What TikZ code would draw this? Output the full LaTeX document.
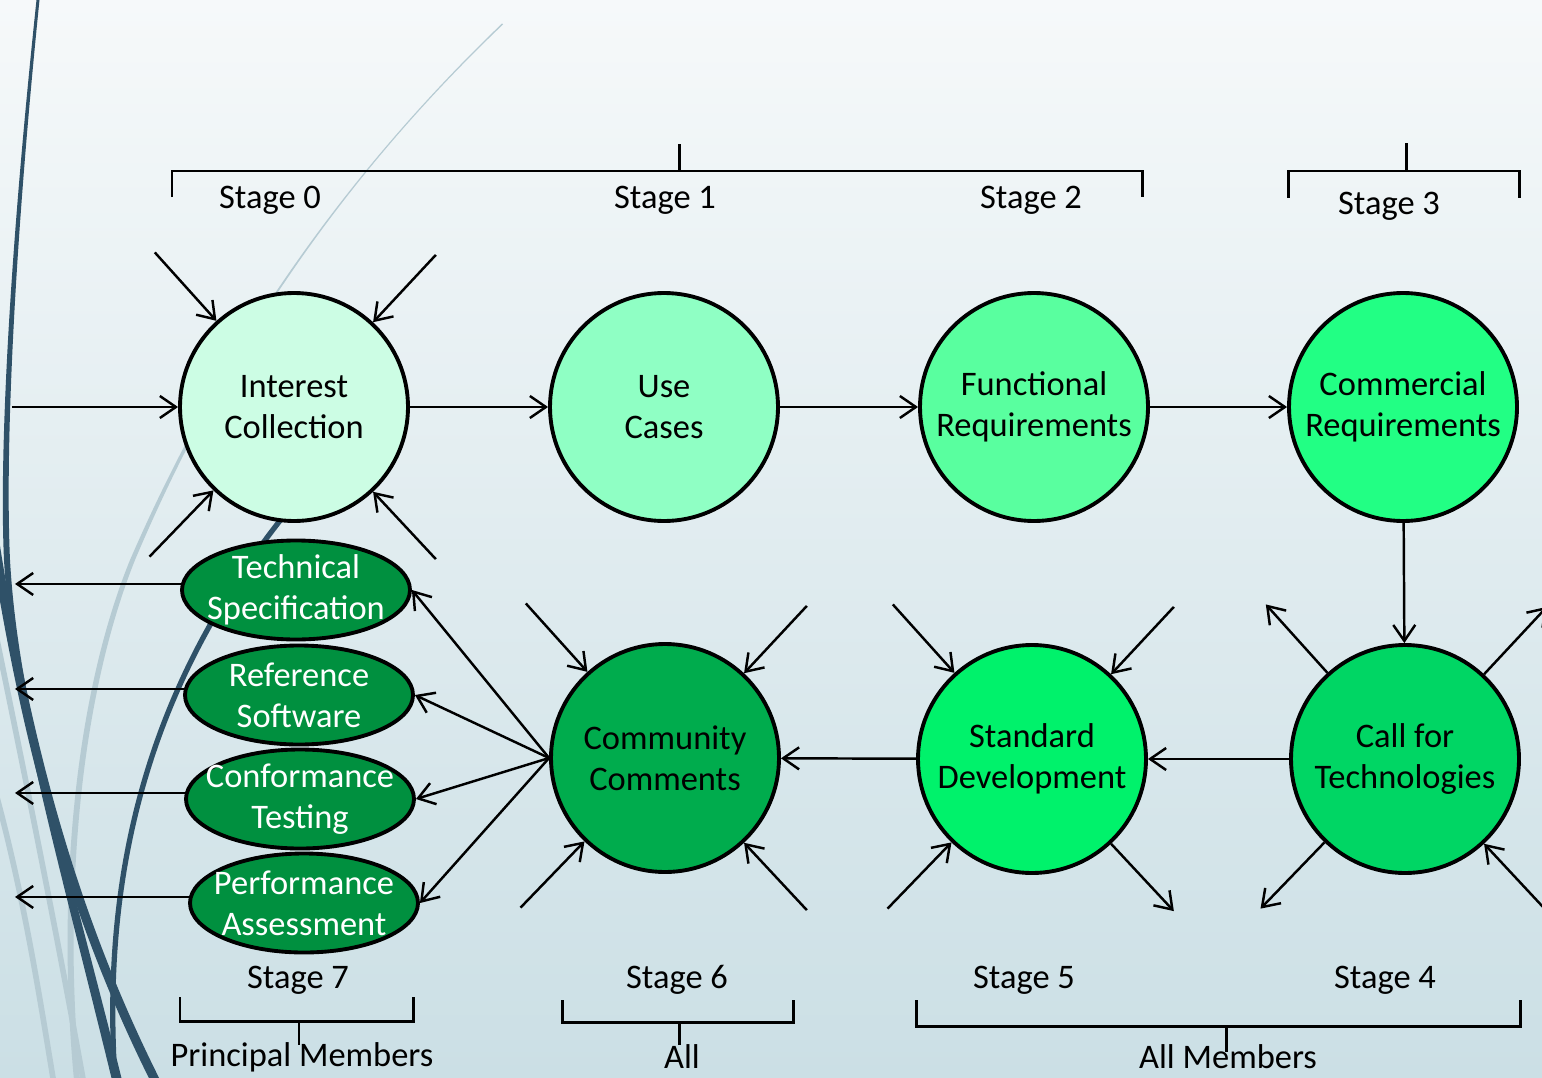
\documentclass[tikz,border=0pt]{standalone}
\usepackage{fontspec}
\setmainfont{Carlito}
\usetikzlibrary{shapes.geometric,arrows.meta}

\definecolor{bgtop}{HTML}{F6F9FA}
\definecolor{bgbottom}{HTML}{CBDFE5}
\definecolor{slate}{HTML}{2F5168}
\definecolor{mist}{HTML}{B6CBD3}
\definecolor{gInterest}{HTML}{CCFDE4}
\definecolor{gUse}{HTML}{8FFFC4}
\definecolor{gFunc}{HTML}{59FF9F}
\definecolor{gComm}{HTML}{22FF84}
\definecolor{gCall}{HTML}{00D664}
\definecolor{gStd}{HTML}{00F26B}
\definecolor{gCommunity}{HTML}{00AC4D}
\definecolor{gOut}{HTML}{00903F}
\newcommand{\diagfont}{\fontsize{9.8pt}{11.6pt}\selectfont}

\begin{document}
\begin{tikzpicture}[>={Straight Barb[length=1.6mm,width=2.2mm]}, line width=0.7pt,
    stage/.style={draw, circle, line width=1.1pt, minimum size=2.28cm, inner sep=0pt, align=center, font=\diagfont},
    output/.style={draw, ellipse, line width=1.1pt, fill=gOut, text=white, minimum width=2.28cm, minimum height=0.99cm, inner xsep=-0.2cm, inner ysep=-0.15cm, align=center, font=\diagfont},
    stagelabel/.style={inner sep=1pt, font=\diagfont},
    bracket/.style={line width=0.85pt},
    stubin/.style={->}, stubout/.style={<-}]
  % background
  \useasboundingbox (0,0) rectangle (15.42,-10.77);
  \shade[top color=bgtop, bottom color=bgbottom] (0,0) rectangle (15.42,-10.77);
  \fill[mist] (5.02,-0.235) .. controls (3.6,-1.6) and (2.3,-3.3) .. (1.30,-5.6)
    .. controls (0.73,-7.0) and (0.57,-9.0) .. (0.74,-10.8) -- (0.80,-10.8)
    .. controls (0.63,-9.0) and (0.79,-7.0) .. (1.35,-5.6)
    .. controls (2.32,-3.3) and (3.61,-1.6) .. (5.03,-0.245) -- cycle;
  \draw[mist, line width=1.6pt] (-0.05,-6.3) .. controls (0.3,-8.0) and (0.6,-9.5) .. (0.85,-10.9);
  \draw[mist, line width=1.6pt] (-0.05,-7.9) .. controls (0.25,-9.0) and (0.4,-10.0) .. (0.55,-10.9);
  \fill[slate] (0.365,0) .. controls (0.1,-2.5) and (-0.01,-4.5) .. (0.04,-5.6)
    .. controls (0.12,-7.0) and (0.51,-8.3) .. (1.12,-10.8) -- (1.22,-10.8)
    .. controls (0.59,-8.3) and (0.18,-7.0) .. (0.10,-5.6)
    .. controls (0.05,-4.5) and (0.14,-2.5) .. (0.395,0) -- cycle;
  \draw[slate, line width=2.6pt] (-0.2,-4.4) .. controls (0.12,-6.8) and (0.55,-8.8) .. (1.55,-10.8);
  \draw[slate, line width=1.5pt] (3.05,-4.9) .. controls (1.6,-6.6) and (1.0,-8.5) .. (1.15,-10.8);

  % stage circles
  \node[stage, fill=gInterest] (IC) at (2.94,-4.07) {Interest\\Collection};
  \node[stage, fill=gUse] (UC) at (6.64,-4.07) {Use\\Cases};
  \node[stage, fill=gFunc] (FR) at (10.34,-4.07) {Functional\\Requirements};
  \node[stage, fill=gComm] (CR) at (14.03,-4.07) {Commercial\\Requirements};
  \node[stage, fill=gCall] (CfT) at (14.05,-7.59) {Call for\\Technologies};
  \node[stage, fill=gStd] (SD) at (10.32,-7.59) {Standard\\Development};
  \node[stage, fill=gCommunity] (CC) at (6.65,-7.58) {Community\\Comments};

  % outputs
  \node[output] (TS) at (2.96,-5.90) {Technical\\Specification};
  \node[output] (RS) at (2.99,-6.95) {Reference\\Software};
  \node[output] (CT) at (3.00,-7.99) {Conformance\\Testing};
  \node[output] (PA) at (3.04,-9.03) {Performance\\Assessment};

  % main flow
  \coordinate (start) at (0.12,-4.07);
  \coordinate (exit) at (0.15,-5.9);
  \draw[->] (start) -- (IC);
  \draw[->] (IC) -- (UC);
  \draw[->] (UC) -- (FR);
  \draw[->] (FR) -- (CR);
  \draw[->] (CR) -- (CfT);
  \draw[->] (CfT) -- (SD);
  \draw[->] (SD) -- (CC);
  \foreach \o in {TS,RS,CT,PA} {
    \draw[->] (CC.west) -- (\o.east);
    \draw[->] (\o.177) -- (\o.177 -| exit);
  }

  % short arrows round the circles
  \foreach \n/\a/\d in {IC/132/stubin, IC/47/stubin, IC/226/stubin, IC/313/stubin,
      CC/132/stubin, CC/47/stubin, CC/226/stubin, CC/313/stubin,
      SD/132/stubin, SD/47/stubin, SD/226/stubin, SD/313/stubout,
      CfT/132/stubout, CfT/47/stubout, CfT/226/stubout, CfT/313/stubin} {
    \coordinate (\n-\a) at ([shift={(\a:2.08)}]\n.center);
    \draw[\d] (\n-\a) -- (\n.\a);
  }

  % stage brackets
  \draw[bracket] (1.72,-1.97) -- (1.72,-1.71) -- (11.42,-1.71) -- (11.42,-1.97);
  \draw[bracket] (6.79,-1.71) -- (6.79,-1.44);
  \draw[bracket] (12.88,-1.98) -- (12.88,-1.71) -- (15.19,-1.71) -- (15.19,-1.98);
  \draw[bracket] (14.06,-1.71) -- (14.06,-1.43);
  \draw[bracket] (1.80,-9.97) -- (1.80,-10.21) -- (4.13,-10.21) -- (4.13,-9.97);
  \draw[bracket] (2.99,-10.21) -- (2.99,-10.45);
  \draw[bracket] (5.62,-10.00) -- (5.62,-10.22) -- (7.93,-10.22) -- (7.93,-10.00);
  \draw[bracket] (6.79,-10.22) -- (6.79,-10.45);
  \draw[bracket] (9.16,-10.00) -- (9.16,-10.26) -- (15.20,-10.26) -- (15.20,-10.00);
  \draw[bracket] (12.26,-10.26) -- (12.26,-10.52);

  % stage labels
  \foreach \s/\x/\y/\t in {s0/2.70/-2.00/Stage 0, s1/6.65/-2.00/Stage 1, s2/10.31/-2.00/Stage 2,
      s3/13.89/-2.06/Stage 3, s7/2.98/-9.80/Stage 7, s6/6.77/-9.80/Stage 6,
      s5/10.24/-9.80/Stage 5, s4/13.85/-9.80/Stage 4,
      pm/3.02/-10.57/Principal Members, all/6.82/-10.57/All, am/12.28/-10.57/All Members}
    \node[stagelabel] (\s) at (\x,\y) {\t};
\end{tikzpicture}
\end{document}
